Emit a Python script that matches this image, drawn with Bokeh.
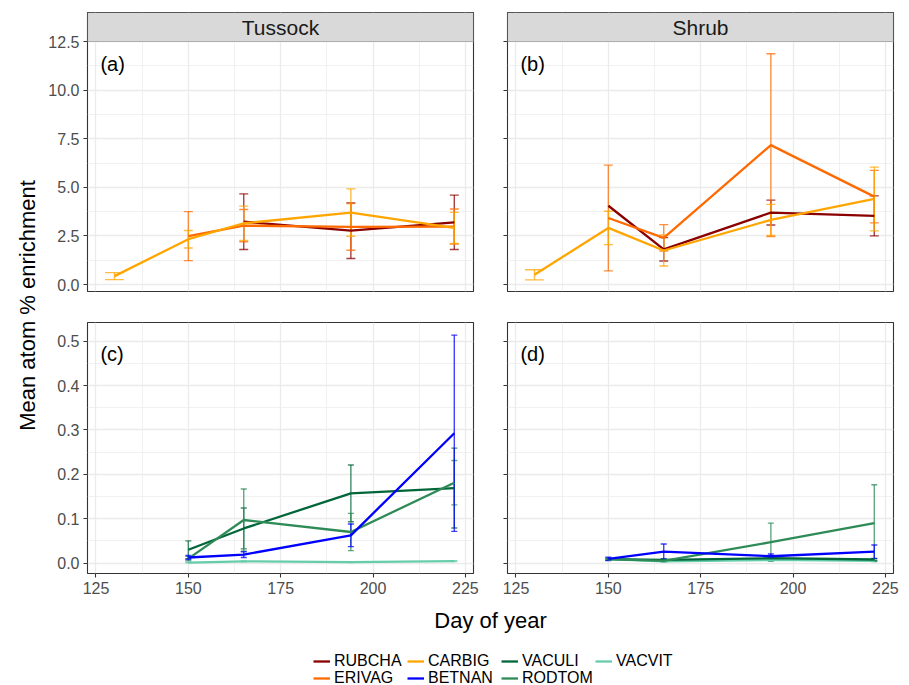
import math
from bokeh.plotting import figure
from bokeh.models import (Range1d, FixedTicker, NumeralTickFormatter, ColumnDataSource,
                          Whisker, TeeHead, BoxAnnotation, Label, Legend, LegendItem)
from bokeh.layouts import row, column
from bokeh.embed import file_html
from bokeh.resources import INLINE

# ---------------- data ----------------
species = ["RUBCHA", "ERIVAG", "CARBIG", "BETNAN", "VACULI", "RODTOM", "VACVIT"]
colors = ["#8B0000", "#FF6A00", "#FFA500", "#0000FF", "#00663A", "#2E8B57", "#66CDAA"]
habitats = ["Tussock", "Shrub"]
panel_tags = ["(a)", "(b)", "(c)", "(d)"]

x_ticks = [125, 150, 175, 200, 225]
top_ticks = [0.0, 2.5, 5.0, 7.5, 10.0, 12.5]
bottom_ticks = [0.0, 0.1, 0.2, 0.3, 0.4, 0.5]

# (a) Tussock, upper row
a_rubcha_day = [165, 194, 222]
a_rubcha_mean = [3.23, 2.77, 3.20]
a_rubcha_se = [1.43, 1.43, 1.40]
a_erivag_day = [150, 165, 194, 222]
a_erivag_mean = [2.49, 3.03, 2.96, 2.98]
a_erivag_se = [1.26, 0.83, 1.20, 0.90]
a_carbig_day = [130, 150, 165, 194, 222]
a_carbig_mean = [0.43, 2.33, 3.15, 3.70, 2.91]
a_carbig_se = [0.18, 0.45, 0.88, 1.22, 0.80]

# (b) Shrub, upper row
b_rubcha_day = [150, 165, 194, 222]
b_rubcha_mean = [4.05, 1.81, 3.70, 3.53]
b_rubcha_se = [float("nan"), 0.60, 0.64, 1.03]
b_erivag_day = [150, 165, 194, 222]
b_erivag_mean = [3.42, 2.40, 7.17, 4.52]
b_erivag_se = [2.72, 0.68, 4.70, 1.35]
b_carbig_day = [130, 150, 165, 194, 222]
b_carbig_mean = [0.50, 2.91, 1.75, 3.32, 4.40]
b_carbig_se = [0.26, 0.86, 0.80, 0.80, 1.64]

# (c) Tussock, lower row
c_day = [150, 165, 194, 222]
c_betnan_mean = [0.0125, 0.019, 0.0625, 0.2925]
c_betnan_se = [0.0045, 0.0064, 0.0255, 0.221]
c_vaculi_mean = [0.030, 0.078, 0.157, 0.169]
c_vaculi_se = [0.020, 0.046, 0.064, 0.090]
c_rodtom_mean = [0.010, 0.097, 0.070, 0.181]
c_rodtom_se = [0.005, 0.070, 0.042, 0.050]
c_vacvit_mean = [0.001, 0.004, 0.002, 0.0045]
c_vacvit_se = [0.0005, 0.001, 0.001, 0.001]

# (d) Shrub, lower row
d_day = [150, 165, 194, 222]
d_betnan_mean = [0.0094, 0.026, 0.0154, 0.0256]
d_betnan_se = [0.004, 0.017, 0.005, 0.015]
d_vaculi_mean = [0.009, 0.007, 0.011, 0.008]
d_vaculi_se = [0.002, 0.002, 0.003, 0.002]
d_rodtom_mean = [0.009, 0.005, 0.047, 0.090]
d_rodtom_se = [0.002, 0.002, 0.043, 0.0865]
d_vacvit_mean = [0.009, 0.004, 0.007, 0.005]
d_vacvit_se = [0.001, 0.001, 0.001, 0.001]

# legend rows (as laid out in the reference)
legend_row1 = ["RUBCHA", "CARBIG", "VACULI", "VACVIT"]
legend_row2 = ["ERIVAG", "BETNAN", "RODTOM"]

# ---------------- styling / layout ----------------
FONT = "Liberation Sans"
COL = dict(zip(species, colors))
XLO, XHI = 122.7, 227.2
FRAME_W = 386
STRIP_PX = 29
GRID = "#EBEBEB"
BORDER = "#333333"


def style_axis(ax, ticks, minor, fmt, labels=True):
    ax.ticker = FixedTicker(ticks=ticks, minor_ticks=minor)
    ax.formatter = NumeralTickFormatter(format=fmt)
    ax.axis_line_color = None
    ax.major_tick_out = 4
    ax.major_tick_in = 0
    ax.major_tick_line_color = BORDER
    ax.major_tick_line_width = 1.1
    ax.minor_tick_line_color = None
    ax.major_label_text_font = FONT
    ax.major_label_text_font_size = "16px"
    ax.major_label_text_color = "#4D4D4D"
    ax.major_label_standoff = 4
    if not labels:
        ax.major_label_overrides = {t: "" for t in ticks}
        ax.major_label_standoff = 0


def add_series(p, day, mean, se, name, cap):
    c = COL[name]
    p.line(day, mean, line_color=c, line_width=2.3)
    groups = {}
    for d, m, s in zip(day, mean, se):
        if s != s:
            continue
        size = cap * 2.1 if d == 130 else cap
        groups.setdefault(size, []).append((d, m, s))
    for size, pts in groups.items():
        src = ColumnDataSource(dict(x=[q[0] for q in pts],
                                    upper=[q[1] + q[2] for q in pts],
                                    lower=[q[1] - q[2] for q in pts]))
        w = Whisker(source=src, base="x", upper="upper", lower="lower",
                    line_color=c, line_width=1.4, line_alpha=0.75,
                    upper_head=TeeHead(size=size, line_color=c, line_width=1.4, line_alpha=0.75),
                    lower_head=TeeHead(size=size, line_color=c, line_width=1.4, line_alpha=0.75))
        p.add_layout(w)


def make_panel(series, ylo, yhi, ticks, minor, fmt, frame_h, strip, tag, tag_y,
               left_labels, bottom_axis, ml, mt, mb, cap):
    data_px = frame_h - (STRIP_PX if strip else 0)
    k = data_px / (yhi - ylo)
    ytop = yhi + (STRIP_PX / k if strip else 0)
    p = figure(frame_width=FRAME_W, frame_height=frame_h,
               x_range=Range1d(XLO, XHI), y_range=Range1d(ylo, ytop),
               output_backend="svg", toolbar_location=None,
               x_axis_location="below" if bottom_axis else None,
               y_axis_location="left",
               min_border_left=ml, min_border_right=16, min_border_top=mt, min_border_bottom=mb,
               background_fill_color="white", border_fill_color="white",
               outline_line_color=BORDER, outline_line_width=1.1)
    xminor = [137.5, 162.5, 187.5, 212.5]
    for g in p.xgrid:
        g.ticker = FixedTicker(ticks=x_ticks, minor_ticks=xminor)
    for g in p.ygrid:
        g.ticker = FixedTicker(ticks=ticks, minor_ticks=minor)
    for g in list(p.xgrid) + list(p.ygrid):
        g.grid_line_color = GRID
        g.grid_line_width = 1.3
        g.minor_grid_line_color = GRID
        g.minor_grid_line_width = 0.7
    style_axis(p.yaxis[0], ticks, minor, fmt, labels=left_labels)
    if bottom_axis:
        style_axis(p.xaxis[0], x_ticks, xminor, "0")
    for (day, mean, se, name) in series:
        add_series(p, day, mean, se, name, cap)
    p.add_layout(Label(x=126.2, y=tag_y, text=tag, text_align="left", text_baseline="middle",
                       text_font=FONT, text_font_size="20px", text_color="black"))
    if strip:
        p.add_layout(BoxAnnotation(left=XLO, right=XHI, bottom=yhi, top=ytop,
                                   fill_color="#D9D9D9", fill_alpha=1.0,
                                   line_color=BORDER, line_width=1.1, level="overlay"))
        p.add_layout(Label(x=(XLO + XHI) / 2, y=(yhi + ytop) / 2, text=strip,
                           text_align="center", text_baseline="middle", level="overlay",
                           text_font=FONT, text_font_size="21px", text_color="#1A1A1A"))
    return p


top_minor = [1.25, 3.75, 6.25, 8.75, 11.25]
bot_minor = [0.05, 0.15, 0.25, 0.35, 0.45]

pa = make_panel([(a_rubcha_day, a_rubcha_mean, a_rubcha_se, "RUBCHA"),
                 (a_erivag_day, a_erivag_mean, a_erivag_se, "ERIVAG"),
                 (a_carbig_day, a_carbig_mean, a_carbig_se, "CARBIG")],
                -0.36, 12.5, top_ticks, top_minor, "0.0", 279, habitats[0], panel_tags[0], 11.35,
                True, False, 42, 12, 15, 9)
pb = make_panel([(b_rubcha_day, b_rubcha_mean, b_rubcha_se, "RUBCHA"),
                 (b_erivag_day, b_erivag_mean, b_erivag_se, "ERIVAG"),
                 (b_carbig_day, b_carbig_mean, b_carbig_se, "CARBIG")],
                -0.36, 12.5, top_ticks, top_minor, "0.0", 279, habitats[1], panel_tags[1], 11.35,
                False, False, 18, 12, 15, 9)
pc = make_panel([(c_day, c_vacvit_mean, c_vacvit_se, "VACVIT"),
                 (c_day, c_vaculi_mean, c_vaculi_se, "VACULI"),
                 (c_day, c_rodtom_mean, c_rodtom_se, "RODTOM"),
                 (c_day, c_betnan_mean, c_betnan_se, "BETNAN")],
                -0.0235, 0.542, bottom_ticks, bot_minor, "0.0", 251, None, panel_tags[2], 0.471,
                True, True, 42, 16, 27, 6)
pd_ = make_panel([(d_day, d_vacvit_mean, d_vacvit_se, "VACVIT"),
                  (d_day, d_vaculi_mean, d_vaculi_se, "VACULI"),
                  (d_day, d_rodtom_mean, d_rodtom_se, "RODTOM"),
                  (d_day, d_betnan_mean, d_betnan_se, "BETNAN")],
                 -0.0235, 0.542, bottom_ticks, bot_minor, "0.0", 251, None, panel_tags[3], 0.471,
                 False, True, 18, 16, 27, 6)


def blank_fig(w, h):
    f = figure(frame_width=w, frame_height=h, x_range=Range1d(0, w), y_range=Range1d(0, h),
               output_backend="svg", toolbar_location=None,
               x_axis_location=None, y_axis_location=None,
               min_border=0, outline_line_color=None,
               background_fill_color="white", border_fill_color="white")
    for g in list(f.xgrid) + list(f.ygrid):
        g.visible = False
    return f


ylab = blank_fig(45, 600)
ylab.add_layout(Label(x=27, y=295, text="Mean atom % enrichment", angle=math.pi / 2,
                      text_align="center", text_baseline="middle",
                      text_font=FONT, text_font_size="22px", text_color="black"))

bottom = blank_fig(909, 85)
bottom.add_layout(Label(x=490, y=65, text="Day of year", text_align="center",
                        text_baseline="middle", text_font=FONT, text_font_size="22px",
                        text_color="black"))


def legend_row(names, y):
    items = []
    for name in names:
        # legend key renderer (a single missing point, nothing visible on the canvas)
        r = bottom.line(x=[float("nan")], y=[float("nan")], line_color=COL[name], line_width=2.3)
        items.append(LegendItem(label=name, renderers=[r]))
    leg = Legend(items=items, location=(313, y), orientation="horizontal",
                 glyph_width=17, glyph_height=14, label_height=14, label_standoff=4,
                 label_width=71, spacing=2, padding=0, margin=0, border_line_color=None,
                 background_fill_alpha=0, label_text_font=FONT, label_text_font_size="16px",
                 label_text_color="black")
    bottom.add_layout(leg, "center")


legend_row(legend_row1, 15)
legend_row(legend_row2, -2)

layout = column(row(ylab, column(row(pa, pb), row(pc, pd_))), bottom)

open("out.html", "w").write(file_html(layout, INLINE))
